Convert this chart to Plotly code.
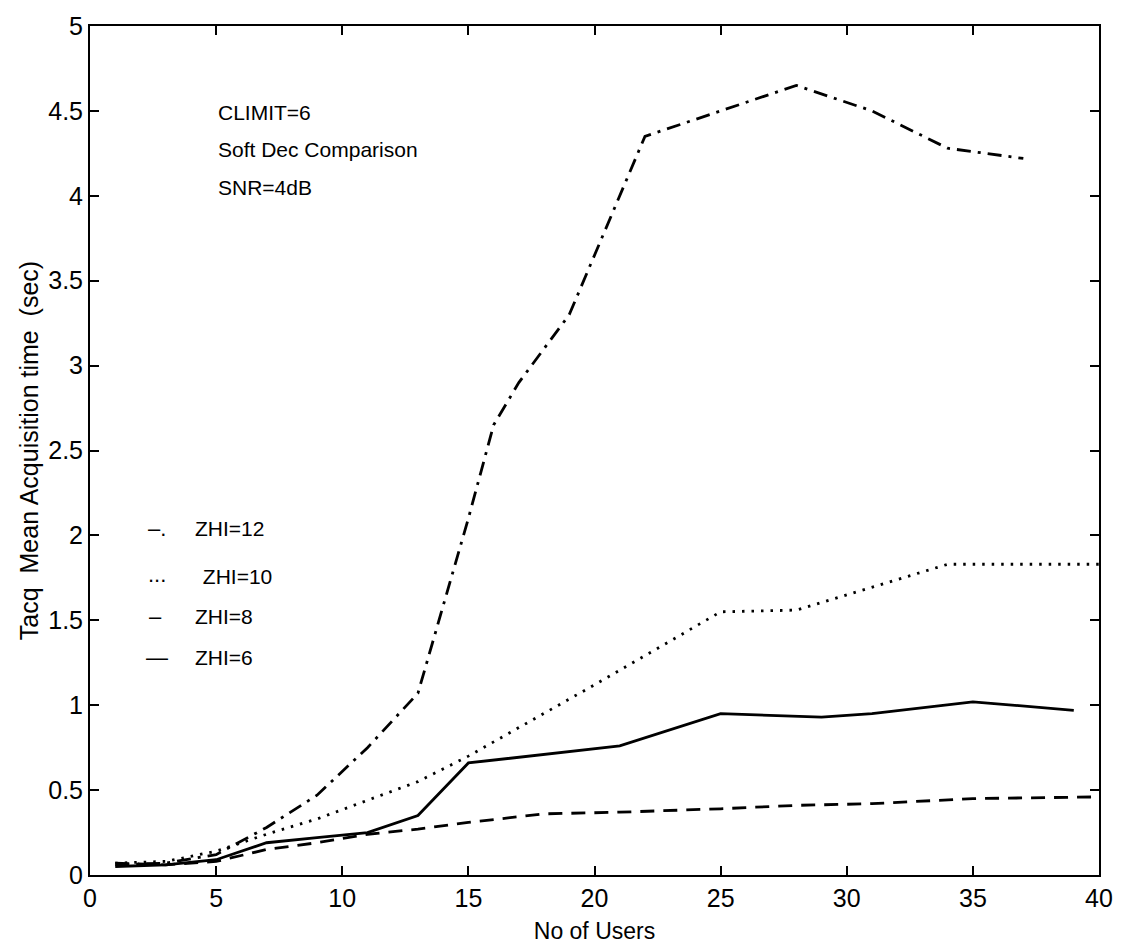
import plotly.graph_objects as go

# Number of users on each curve
users_zhi12 = [1, 3, 5, 7, 9, 11, 13, 15, 16, 17, 19, 21, 22, 25, 28, 31, 34, 37]
tacq_zhi12 = [0.06, 0.07, 0.12, 0.28, 0.47, 0.75, 1.07, 2.1, 2.65, 2.9, 3.3, 4.0, 4.35, 4.5, 4.65, 4.5, 4.28, 4.22]

users_zhi10 = [1, 3, 5, 7, 9, 11, 13, 15, 20, 25, 28, 34, 40]
tacq_zhi10 = [0.07, 0.08, 0.14, 0.24, 0.33, 0.44, 0.55, 0.7, 1.12, 1.55, 1.56, 1.83, 1.83]

users_zhi8 = [1, 3, 5, 7, 9, 11, 13, 15, 18, 21, 25, 28, 31, 35, 40]
tacq_zhi8 = [0.07, 0.06, 0.08, 0.15, 0.19, 0.24, 0.27, 0.31, 0.36, 0.37, 0.39, 0.41, 0.42, 0.45, 0.46]

users_zhi6 = [1, 3, 5, 7, 9, 11, 13, 15, 21, 25, 29, 31, 35, 39]
tacq_zhi6 = [0.05, 0.06, 0.09, 0.19, 0.22, 0.25, 0.35, 0.66, 0.76, 0.95, 0.93, 0.95, 1.02, 0.97]

x_ticks = [0, 5, 10, 15, 20, 25, 30, 35, 40]
y_ticks = [0, 0.5, 1, 1.5, 2, 2.5, 3, 3.5, 4, 4.5, 5]
y_tick_text = ["0", "0.5", "1", "1.5", "2", "2.5", "3", "3.5", "4", "4.5", "5"]

FONT = "Liberation Sans, Arial, Helvetica, sans-serif"
LW = 2.8

fig = go.Figure()
fig.add_trace(go.Scatter(x=users_zhi12, y=tacq_zhi12, mode="lines",
                         line=dict(color="black", width=LW, dash="14px,7px,3px,7px")))
fig.add_trace(go.Scatter(x=users_zhi10, y=tacq_zhi10, mode="lines",
                         line=dict(color="black", width=LW, dash="2.5px,7px")))
fig.add_trace(go.Scatter(x=users_zhi8, y=tacq_zhi8, mode="lines",
                         line=dict(color="black", width=LW, dash="14px,9px")))
fig.add_trace(go.Scatter(x=users_zhi6, y=tacq_zhi6, mode="lines",
                         line=dict(color="black", width=LW)))

axis_common = dict(
    showline=True, linecolor="black", linewidth=2, mirror="allticks",
    ticks="inside", ticklen=9, tickwidth=2, tickcolor="black",
    showgrid=False, zeroline=False,
    tickfont=dict(family=FONT, size=25, color="black"),
)

fig.update_xaxes(range=[0, 40], tickvals=x_ticks, ticktext=[str(v) for v in x_ticks],
                 title=dict(text="No of Users", font=dict(family=FONT, size=23, color="black"),
                            standoff=12),
                 **axis_common)
fig.update_yaxes(range=[0, 5], tickvals=y_ticks, ticktext=y_tick_text,
                 title=dict(text="Tacq  Mean Acquisition time  (sec)",
                            font=dict(family=FONT, size=25, color="black"), standoff=2),
                 **axis_common)

def note(x, y, text, size=21):
    fig.add_annotation(x=x, y=y, xref="x", yref="y", text=text, showarrow=False,
                       xanchor="left", yanchor="middle",
                       font=dict(family=FONT, size=size, color="black"))

# Run conditions
note(5.0, 4.49, "CLIMIT=6")
note(5.0, 4.27, "Soft Dec Comparison")
note(5.0, 4.05, "SNR=4dB")

# Line-style key
note(2.2, 2.04, "–.", 22)
note(4.1, 2.04, "ZHI=12")
note(2.2, 1.77, "...", 22)
note(4.15, 1.76, " ZHI=10")
note(2.25, 1.52, "–", 22)
note(4.1, 1.52, "ZHI=8")
note(2.15, 1.28, "—", 22)
note(4.1, 1.28, "ZHI=6")

fig.update_layout(
    width=1125, height=952,
    margin=dict(l=90, r=20, t=20, b=75),
    paper_bgcolor="white", plot_bgcolor="white",
    showlegend=False,
    font=dict(family=FONT, color="black"),
)

fig.write_html("out.html")
